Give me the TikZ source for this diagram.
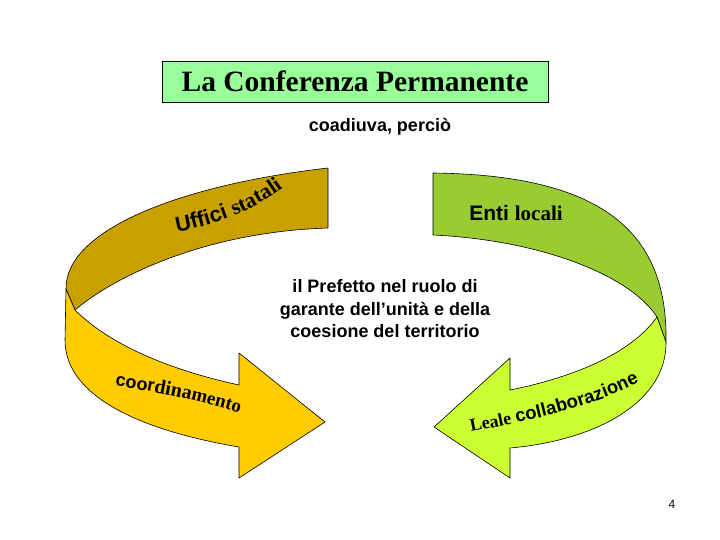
\documentclass[tikz,border=0pt]{standalone}
\usepackage{fontspec}
\setmainfont{Liberation Serif}
\setsansfont{Liberation Sans}
\usetikzlibrary{scopes,decorations.text}
\definecolor{oro}{HTML}{C8A000}
\definecolor{giallo}{HTML}{FFCC00}
\definecolor{oliva}{HTML}{99CC33}
\definecolor{verdino}{HTML}{CCFF33}
\definecolor{menta}{HTML}{99FF99}
\tikzset{
    band/.style={draw=black, line width=0.6pt, line join=round},
    arialb/.style={font=\sffamily\bfseries\fontsize{18}{22.5}\selectfont},
    curvo/.style={decorate, decoration={text along path, text align=left, text={#1}}}
}

\begin{document}
\begin{tikzpicture}[x=1pt, y=-1pt]
    \useasboundingbox (0,0) rectangle (720,540);
    %titolo
    \node[draw, fill=menta, line width=0.8pt, minimum width=386pt, minimum height=41pt,
        font=\rmfamily\bfseries\fontsize{29.5}{31}\selectfont] (titolo) at (355,81.5) {La Conferenza Permanente};
    \node[arialb] (coadiuva) at (380,127) {coadiuva, perciò};
    %freccia sinistra
    { [band]
    \filldraw[fill=oro] (328,168) -- (328,228) .. controls (200,232) and (110,280) .. (75,310)
        -- (66,289) .. controls (65,230) and (180,185) .. (328,168) -- cycle;
    \filldraw[fill=giallo] (66,289) -- (75,310) .. controls (110,345) and (170,370) .. (239,385)
        -- (239,353) -- (325,422) -- (239,478) -- (239,447)
        .. controls (150,432) and (65,400) .. (65,340) -- cycle;
    }
    %freccia destra
    { [band]
    \filldraw[fill=oliva] (433,173) -- (433,235) .. controls (540,240) and (630,275) .. (657,317)
        -- (666,342) .. controls (668,230) and (600,175) .. (433,173) -- cycle;
    \filldraw[fill=verdino] (657,317) .. controls (630,355) and (570,378) .. (510,390)
        -- (510,358) -- (434,427) -- (510,478) -- (510,448)
        .. controls (600,440) and (667,400) .. (666,342) -- cycle;
    }
    %scritte sulle frecce
    \path[curvo={|\sffamily\bfseries\fontsize{21.5}{21.5}\selectfont|Uffici |\rmfamily\bfseries\fontsize{21.5}{21.5}\selectfont|statali}]
        (177,232) .. controls (228,222) and (270,205) .. (318,158);
    \path[curvo={|\sffamily\bfseries\fontsize{18}{18}\selectfont|coor|\rmfamily\bfseries\fontsize{20}{20}\selectfont|dina|\rmfamily\bfseries\fontsize{19}{19}\selectfont|mento}]
        (115,386) .. controls (160,392) and (210,402) .. (280,426);
    \path[curvo={|\rmfamily\bfseries\fontsize{18}{18}\selectfont|Leale |\sffamily\bfseries\fontsize{18.5}{18.5}\selectfont|collaborazione}]
        (471,432) .. controls (540,418) and (600,408) .. (668,366);
    \node[font=\bfseries\fontsize{21}{21}\selectfont] (enti) at (516,213) {\sffamily Enti \rmfamily locali};
    %prefetto
    \node[arialb, align=center] (prefetto) at (385,309) {il Prefetto nel ruolo di\\garante dell’unità e della\\coesione del territorio};
    \node[font=\sffamily\fontsize{12}{12}\selectfont] (pagina) at (672,504) {4};
\end{tikzpicture}
\end{document}
